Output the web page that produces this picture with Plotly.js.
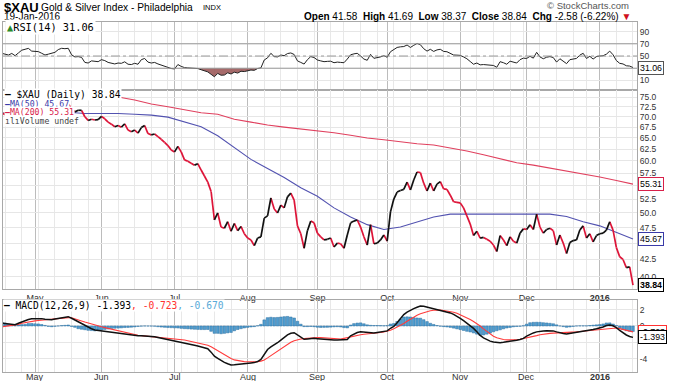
<!DOCTYPE html>
<html><head><meta charset="utf-8">
<script src="https://cdn.plot.ly/plotly-3.0.1.min.js"></script>
<style>html,body{margin:0;padding:0;background:#fff;}#chart{width:675px;height:381px;}</style>
</head><body><div id="chart"></div>
<script>
// ---------------- DATA ----------------
const firstDay = '2015-04-17';
const lastDay = '2016-01-19';
const holidays = ['2015-05-25','2015-07-03','2015-09-07','2015-11-26','2015-12-25','2016-01-01','2016-01-18'];

const close = [
71.0,70.5,71.2,71.0,70.4,71.8,72.6,72.3,71.5,71.6,
71.3,71.4,70.6,70.3,71.0,71.5,72.4,72.5,73.0,72.8,
73.2,72.0,71.2,71.6,71.6,70.0,69.1,69.4,69.2,69.3,
70.1,69.5,68.7,68.2,67.6,67.9,67.5,68.3,66.8,66.4,
66.8,66.1,67.4,67.9,66.0,65.7,65.9,65.3,64.7,64.0,
63.3,62.3,61.9,63.1,61.9,60.2,59.9,59.5,59.1,59.4,
58.1,56.9,55.7,53.9,48.8,50.0,47.6,47.4,48.5,46.9,
48.2,47.0,47.7,46.5,45.8,45.5,44.6,45.8,46.0,49.1,
49.5,52.7,50.7,50.0,51.4,50.9,52.9,53.6,52.3,47.8,
46.5,44.2,47.0,48.6,48.3,46.6,46.0,45.5,45.6,45.8,
44.4,45.0,44.9,44.2,46.3,48.3,48.6,48.8,47.6,46.0,
44.7,48.0,44.9,45.0,45.5,46.3,45.3,50.2,52.5,53.8,
54.1,54.3,55.7,54.2,56.1,57.7,57.6,55.5,54.0,55.5,
54.0,55.3,55.8,54.4,54.3,53.2,52.0,51.9,51.8,50.9,
49.5,48.1,46.2,46.9,45.8,45.9,45.6,45.3,44.7,43.7,
46.2,45.5,44.6,46.0,45.3,45.0,46.6,47.3,47.2,48.0,
47.2,49.8,47.6,46.6,47.2,47.4,47.0,44.7,46.3,45.0,
43.4,45.1,45.4,45.5,47.1,47.8,45.8,46.5,45.2,46.2,
46.5,46.6,47.1,48.5,47.1,44.3,42.9,42.5,41.3,41.42,
38.84];

// moving averages, one value every 5th trading day
const maStep = 5;
const ma50 = [70.9,70.9,71.0,71.1,71.1,70.8,70.8,70.8,70.6,70.4,69.9,68.7,67.6,65.5,62.9,60.3,58.4,56.6,54.6,53.0,
50.9,49.3,48.0,47.2,47.6,48.5,49.3,49.8,49.8,49.8,49.8,49.8,49.8,49.8,49.4,48.5,47.8,46.7,45.67];
const ma200 = [77.8,77.6,77.4,77.2,77.0,76.5,75.8,75.0,74.2,73.2,72.5,71.8,71.0,70.6,69.4,68.7,68.0,67.5,67.1,66.7,
66.2,65.6,65.0,64.6,64.1,63.7,63.4,62.8,62.1,61.3,60.5,59.6,59.1,58.5,57.8,57.2,56.7,56.0,55.31];
const supportLevel = 43.0;

const rsi = [
54.4,53,51.6,54.2,50.5,55,59.5,61,62.5,58,
57,57.2,54.5,51.6,53,54,56,60.5,62.6,62,
62.6,52,48.5,49,47.8,39.5,38.5,42,41,40.7,
44,42.5,39.5,38,37,38.5,38,40.5,36.5,36,
38,36.5,44,46,40,38.5,39.5,37,35,33.5,
32,29.5,28.8,36,33,31,30.5,30.5,30.2,29.5,
27.5,25.5,24,20,16,21.5,18.5,18.8,22.5,20.5,
23.5,22,25,24.5,26,27,26.5,29.5,30.5,43.5,
47,54.4,49,48.5,51.6,50.5,54,55,52.5,42,
39.5,36.8,44,49,47.5,43.5,42,40.7,41.2,41.5,
39,40,39.5,39,45,52,53.5,54.4,50,45,
43,52.7,46.2,47,48.5,50.5,48,57,61,64,
65,65.5,68,64,67.5,70.5,68.5,62,58,61,
57.5,60,61,57.5,57,54.5,51.6,51.4,51,48.5,
45.5,41,36.5,38.5,35.5,36,35.5,35,34.5,31.5,
40.7,39,36.5,41.5,39.5,38.5,44,46.5,46,49.5,
46.5,56,48.5,45.5,48,49,47.5,40,45.5,41.5,
37.5,44,45.5,46,51.5,54.4,46,49.5,45,49,
50,50.5,53,58,52,42.5,38,37,34,33.5,
31.06];
const rsiUpper = 70, rsiMid = 50, rsiLower = 30;

const macd = [
0.35,0.3,0.22,0.14,0.15,0.33,0.5,0.62,0.8,0.88,
0.9,0.93,0.9,0.82,0.75,0.76,0.86,0.94,1.02,1.08,
1.14,0.95,0.74,0.45,0.22,0.02,-0.18,-0.34,-0.48,-0.54,
-0.58,-0.62,-0.67,-0.72,-0.79,-0.86,-0.93,-0.99,-1.08,-1.15,
-1.19,-1.2,-1.2,-1.22,-1.26,-1.29,-1.33,-1.42,-1.5,-1.58,
-1.66,-1.73,-1.8,-1.87,-1.95,-2.05,-2.15,-2.26,-2.36,-2.46,
-2.56,-2.66,-2.78,-3.2,-3.7,-3.95,-4.25,-4.45,-4.62,-4.77,
-4.74,-4.68,-4.65,-4.6,-4.55,-4.52,-4.48,-4.35,-4.1,-3.4,
-2.88,-2.55,-2.32,-2.05,-1.72,-1.38,-1.08,-0.9,-0.82,-1.1,
-1.38,-1.63,-1.58,-1.52,-1.51,-1.55,-1.6,-1.63,-1.66,-1.69,
-1.71,-1.72,-1.72,-1.72,-1.65,-1.2,-0.95,-0.8,-0.7,-0.75,
-0.85,-0.88,-0.86,-0.8,-0.75,-0.7,-0.6,-0.28,-0.05,0.4,
0.9,1.4,1.7,1.95,2.12,2.3,2.45,2.42,2.32,2.2,
2.12,2.02,1.92,1.82,1.72,1.6,1.42,1.2,0.94,0.65,
0.35,0.05,-0.3,-0.7,-1.15,-1.45,-1.68,-1.85,-1.96,-2.03,
-2.04,-2.0,-1.95,-1.9,-1.82,-1.74,-1.66,-1.52,-1.25,-1.0,
-0.85,-0.72,-0.63,-0.6,-0.58,-0.57,-0.6,-0.72,-0.85,-0.92,
-0.98,-0.92,-0.82,-0.72,-0.66,-0.62,-0.58,-0.5,-0.42,-0.33,
-0.24,-0.12,0.05,0.12,0.02,-0.2,-0.55,-0.85,-1.1,-1.28,
-1.393];
const signal = [
-0.1,-0.05,0,0.05,0.1,0.2,0.33,0.42,0.5,0.57,
0.63,0.68,0.72,0.75,0.8,0.85,0.9,0.94,0.97,1.0,
1.02,1.0,0.9,0.78,0.62,0.48,0.35,0.22,0.12,0,
-0.1,-0.2,-0.3,-0.42,-0.52,-0.6,-0.7,-0.8,-0.9,-1.0,
-1.08,-1.14,-1.18,-1.22,-1.25,-1.28,-1.3,-1.33,-1.37,-1.42,
-1.47,-1.52,-1.57,-1.62,-1.66,-1.72,-1.8,-1.88,-1.96,-2.04,
-2.12,-2.22,-2.35,-2.55,-2.8,-3.05,-3.3,-3.55,-3.78,-3.98,
-4.15,-4.25,-4.32,-4.36,-4.38,-4.4,-4.4,-4.38,-4.3,-4.15,
-3.9,-3.62,-3.35,-3.1,-2.82,-2.52,-2.25,-2.0,-1.8,-1.68,
-1.6,-1.55,-1.5,-1.46,-1.42,-1.4,-1.42,-1.46,-1.5,-1.55,
-1.6,-1.63,-1.6,-1.52,-1.42,-1.32,-1.24,-1.16,-1.08,-1.02,
-0.99,-0.96,-0.92,-0.86,-0.8,-0.73,-0.65,-0.52,-0.35,-0.15,
0.05,0.3,0.58,0.85,1.1,1.32,1.5,1.65,1.78,1.87,
1.93,1.96,1.95,1.9,1.84,1.77,1.68,1.55,1.38,1.2,
1.0,0.78,0.55,0.3,0,-0.35,-0.68,-0.98,-1.25,-1.45,
-1.57,-1.65,-1.7,-1.72,-1.72,-1.68,-1.62,-1.55,-1.48,-1.4,
-1.3,-1.18,-1.08,-1.0,-0.95,-0.9,-0.87,-0.86,-0.85,-0.84,
-0.82,-0.8,-0.77,-0.72,-0.68,-0.64,-0.6,-0.56,-0.52,-0.47,
-0.42,-0.37,-0.32,-0.26,-0.22,-0.25,-0.32,-0.42,-0.52,-0.62,
-0.723];
const hist = [
0.45,0.35,0.22,0.09,0.05,0.13,0.17,0.2,0.3,0.31,
0.27,0.25,0.18,0.07,-0.05,-0.09,-0.04,0,0.05,0.08,
0.12,-0.05,-0.16,-0.33,-0.4,-0.46,-0.53,-0.56,-0.6,-0.54,
-0.48,-0.42,-0.37,-0.3,-0.27,-0.26,-0.23,-0.19,-0.18,-0.15,
-0.11,-0.06,-0.02,0,-0.01,-0.01,-0.03,-0.09,-0.13,-0.16,
-0.19,-0.21,-0.23,-0.25,-0.29,-0.33,-0.35,-0.38,-0.4,-0.42,
-0.44,-0.44,-0.43,-0.65,-0.9,-0.9,-0.95,-0.9,-0.84,-0.79,
-0.59,-0.43,-0.33,-0.24,-0.17,-0.12,-0.08,0.03,0.2,0.75,
1.02,1.07,1.03,1.05,1.1,1.14,1.17,1.1,0.98,0.58,
0.22,-0.08,-0.08,-0.06,-0.09,-0.15,-0.18,-0.17,-0.16,-0.14,
-0.11,-0.09,-0.12,-0.2,-0.23,0.12,0.29,0.36,0.38,0.27,
0.14,0.08,0.06,0.06,0.05,0.03,0.05,0.24,0.3,0.55,
0.85,1.1,1.12,1.1,1.02,0.98,0.95,0.77,0.54,0.33,
0.19,0.06,-0.03,-0.08,-0.12,-0.17,-0.26,-0.35,-0.44,-0.55,
-0.65,-0.73,-0.85,-1.0,-1.15,-1.1,-1.0,-0.87,-0.71,-0.58,
-0.47,-0.35,-0.25,-0.18,-0.1,-0.06,-0.04,0.03,0.23,0.4,
0.45,0.46,0.45,0.4,0.37,0.33,0.27,0.14,0,-0.08,
-0.16,-0.12,-0.05,0,0.02,0.02,0.02,0.06,0.1,0.14,
0.18,0.25,0.37,0.38,0.24,0.05,-0.23,-0.43,-0.58,-0.66,
-0.67];

const monthTicks = ['2015-05-01','2015-06-01','2015-07-01','2015-08-03','2015-09-01','2015-10-01','2015-11-02','2015-12-01','2016-01-04'];
const monthLabels = ['May','Jun','Jul','Aug','Sep','Oct','Nov','Dec','<b>2016</b>'];
const priceTicks = [40,42.5,45,47.5,50,52.5,55,57.5,60,62.5,65,67.5,70,72.5,75];
const rsiTicks = [10,30,50,70,90];
const macdTicks = [-4,-2,0,2];

// ---------------- BUILD ----------------
function tradingDays(a,b,hol){
  const out=[]; let d=new Date(a+'T00:00:00Z'); const e=new Date(b+'T00:00:00Z');
  while(d<=e){const s=d.toISOString().slice(0,10); const w=d.getUTCDay();
    if(w!==0&&w!==6&&hol.indexOf(s)<0) out.push(s); d=new Date(d.getTime()+86400000);}
  return out;
}
const dates = tradingDays(firstDay,lastDay,holidays);
const maDates = dates.filter((d,i)=>i%maStep===0);
const weekStarts = dates.filter((d,i)=> i===0 || new Date(d+'T00:00:00Z').getUTCDay() <= new Date(dates[i-1]+'T00:00:00Z').getUTCDay());

const upX=[],upY=[],dnX=[],dnY=[];
for(let i=1;i<close.length;i++){
  const down = close[i]<close[i-1];
  (down?dnX:upX).push(dates[i-1],dates[i],null);
  (down?dnY:upY).push(close[i-1],close[i],null);
}
const rsiLow = rsi.map(v=>Math.min(v,rsiLower));

// pixel helpers for the 675x381 frame (plot area x 3..637, y 22..372)
const PL=3, PR=637, PT=22, PB=372;
const px = v => (v-PL)/(PR-PL);
const py = v => (PB-v)/(PB-PT);

const FONT = 'Liberation Sans, Arial, sans-serif';
const MONO = 'DejaVu Sans Mono, monospace';

// tick labels hidden under the last-value tags (as in the original)
const hiddenLabels = {rsi:[30], price:[55], macd:[-2]};

const xRange = ['2015-04-17 08:40','2016-01-20 05:00'];
const xBase = {type:'date', range:xRange,
  rangebreaks:[{bounds:['sat','mon']},{values:holidays}],
  tickmode:'array', tickvals:monthTicks, ticktext:monthLabels,
  showgrid:true, gridcolor:'#bcbcbc', gridwidth:1,
  minor:{tickmode:'array', tickvals:weekStarts, showgrid:true, gridcolor:'#e8e8e8', gridwidth:1, ticks:''},
  showline:true, mirror:true, linecolor:'#a8a8a8', linewidth:1,
  zeroline:false, ticks:'', tickfont:{family:FONT,size:9,color:'#333'}, fixedrange:true};

const yBase = {side:'right', showgrid:true, gridcolor:'#e6e6e6', zeroline:false, ticks:'',
  showline:true, mirror:true, linecolor:'#a8a8a8', linewidth:1,
  tickfont:{family:FONT,size:8.5,color:'#333'}, fixedrange:true};

const traces = [
  // RSI panel
  {x:dates, y:rsi.map(()=>rsiLower), xaxis:'x', yaxis:'y', mode:'lines', line:{width:0}, hoverinfo:'skip'},
  {x:dates, y:rsiLow, xaxis:'x', yaxis:'y', mode:'lines', line:{width:0}, fill:'tonexty', fillcolor:'rgba(150,80,80,0.85)', hoverinfo:'skip'},
  {x:dates, y:rsi, xaxis:'x', yaxis:'y', mode:'lines', line:{color:'#222', width:1}},
  // price panel
  {x:maDates, y:ma200, xaxis:'x2', yaxis:'y2', mode:'lines', line:{color:'#e0405e', width:1.1}},
  {x:maDates, y:ma50, xaxis:'x2', yaxis:'y2', mode:'lines', line:{color:'#5252b0', width:1.1}},
  {x:dnX, y:dnY, xaxis:'x2', yaxis:'y2', mode:'lines', connectgaps:false, line:{color:'#dd1438', width:1.7}},
  {x:upX, y:upY, xaxis:'x2', yaxis:'y2', mode:'lines', connectgaps:false, line:{color:'#111', width:1.7}},
  // MACD panel
  {x:dates, y:hist, xaxis:'x3', yaxis:'y3', type:'bar', marker:{color:'#4f9dd0', line:{color:'#2f70a0', width:0.5}}},
  {x:dates, y:signal, xaxis:'x3', yaxis:'y3', mode:'lines', line:{color:'#ff3b3b', width:1.1}},
  {x:dates, y:macd, xaxis:'x3', yaxis:'y3', mode:'lines', line:{color:'#111', width:1.5}}
];

function ann(x,y,text,o){return Object.assign({xref:'paper',yref:'paper',x:px(x),y:py(y),text:text,showarrow:false,
  xanchor:'left',yanchor:'middle',font:{family:MONO,size:9.6,color:'#000'}},o||{});}
function tag(v,digits,yref,isLog,color,bold){const t=v.toFixed(digits);
  return {xref:'paper',x:1,xanchor:'left',xshift:1,yref:yref,y:isLog?Math.log10(v):v,
  text:bold?'<b>'+t+'</b>':t,showarrow:false,bordercolor:color,borderwidth:1,borderpad:1,bgcolor:'#fff',
  font:{family:FONT,size:8.8,color:'#000'}};}

const last = close.length-1;
const annotations = [
  ann(2,7.2,'<b>$XAU</b>',{font:{family:FONT,size:13,color:'#000'}}),
  ann(39,7.5,'Gold & Silver Index - Philadelphia',{font:{family:FONT,size:10.2,color:'#000'}}),
  ann(201,8,'INDX',{font:{family:FONT,size:7.5,color:'#000'}}),
  ann(2,16.8,'19-Jan-2016',{font:{family:FONT,size:10,color:'#000'}}),
  ann(631,5.5,'© StockCharts.com',{xanchor:'right',font:{family:FONT,size:9.5,color:'#555'}}),
  ann(633,16.5,'<b>Open</b> 41.58  <b>High</b> 41.69  <b>Low</b> 38.37  <b>Close</b> 38.84  <b>Chg</b> -2.58 (-6.22%) <span style="color:#d01020">▼</span>',
      {xanchor:'right',font:{family:FONT,size:10,color:'#000'}}),
  ann(5,26.5,'<span style="color:#2a8a2a">▲</span>RSI(14) '+rsi[last].toFixed(2),{bgcolor:'#fff',font:{family:MONO,size:10.3,color:'#000'}}),
  ann(4,95,'<b>—</b> $XAU (Daily) '+close[last].toFixed(2),{bgcolor:'#fff',borderpad:0}),
  ann(4,103.5,'<b>—</b>MA(50) '+ma50[ma50.length-1].toFixed(2),{bgcolor:'#fff',borderpad:0,font:{family:MONO,size:8.2,color:'#3a3aa8'}}),
  ann(4,112,'<b>—</b>MA(200) '+ma200[ma200.length-1].toFixed(2),{bgcolor:'#fff',borderpad:0,font:{family:MONO,size:8.2,color:'#d8204a'}}),
  ann(4,120.5,'ılıVolume undef',{bgcolor:'#fff',borderpad:0,font:{family:MONO,size:8.2,color:'#444'}}),
  ann(3,305,'<b>—</b> MACD(12,26,9) '+macd[last].toFixed(3)+'<span style="color:#ff3030">, '+signal[last].toFixed(3)+'</span><span style="color:#5aaad8">, '+hist[last].toFixed(3)+'</span>',{bgcolor:'#fff',borderpad:0}),
  tag(rsi[last],2,'y',false,'#555',false),
  tag(ma200[ma200.length-1],2,'y2',true,'#d8204a',false),
  tag(ma50[ma50.length-1],2,'y2',true,'#3a3aa8',false),
  tag(close[last],2,'y2',true,'#000',true),
  tag(signal[last],3,'y3',false,'#ff3030',false),
  tag(macd[last],3,'y3',false,'#000',false)
];
// month labels under the MACD panel
monthTicks.forEach((d,k)=>annotations.push({xref:'x3',x:d,yref:'paper',y:py(376.5),text:monthLabels[k],showarrow:false,
  xanchor:'center',yanchor:'middle',font:{family:FONT,size:9,color:'#333'}}));

const shapes = [
  {type:'line',xref:'x domain',x0:0,x1:1,yref:'y',y0:rsiUpper,y1:rsiUpper,line:{color:'#9a9a9a',width:1}},
  {type:'line',xref:'x domain',x0:0,x1:1,yref:'y',y0:rsiLower,y1:rsiLower,line:{color:'#9a9a9a',width:1}},
  {type:'line',xref:'x domain',x0:0,x1:1,yref:'y',y0:rsiMid,y1:rsiMid,line:{color:'#9a9a9a',width:1,dash:'dashdot'}},
  {type:'line',xref:'x2 domain',x0:0,x1:1,yref:'y2',y0:Math.log10(supportLevel),y1:Math.log10(supportLevel),line:{color:'#1414d8',width:2}}
];

const lab = (vals,hide,fmt)=>vals.map(v=>hide.indexOf(v)>=0?'':fmt(v));
const layout = {
  width:675, height:381, margin:{l:PL,r:675-PR,t:PT,b:381-PB},
  paper_bgcolor:'#fff', plot_bgcolor:'#fff', showlegend:false, bargap:0.2,
  xaxis:Object.assign({},xBase,{anchor:'y',showticklabels:false}),
  xaxis2:Object.assign({},xBase,{anchor:'y2',showticklabels:true}),
  xaxis3:Object.assign({},xBase,{anchor:'y3',showticklabels:false}),
  yaxis:Object.assign({},yBase,{anchor:'x',domain:[py(90),1],range:[-5.7,105.7],tickvals:rsiTicks,ticktext:lab(rsiTicks,hiddenLabels.rsi,String)}),
  yaxis2:Object.assign({},yBase,{anchor:'x2',domain:[py(289),py(90)],type:'log',range:[Math.log10(38.33),Math.log10(76.86)],
    tickvals:priceTicks,ticktext:lab(priceTicks,hiddenLabels.price,v=>v.toFixed(1))}),
  yaxis3:Object.assign({},yBase,{anchor:'x3',domain:[0,py(300)],range:[-5.63,3.18],tickvals:macdTicks,ticktext:lab(macdTicks,hiddenLabels.macd,String)}),
  annotations:annotations, shapes:shapes
};
Plotly.newPlot('chart',traces,layout,{displayModeBar:false,staticPlot:true});
</script></body></html>
